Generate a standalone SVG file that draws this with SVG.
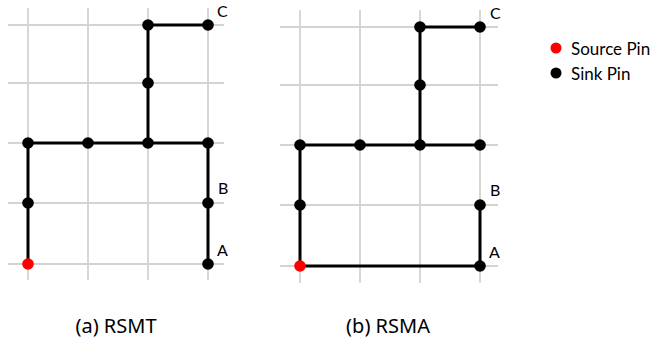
<svg xmlns="http://www.w3.org/2000/svg" width="653" height="345" viewBox="0 0 653 345">
  <style>
    .grid line { stroke: #d3d3d3; stroke-width: 1.8; }
    .wire { stroke: #000; stroke-width: 3; fill: none; stroke-linecap: round; }
    .sink { fill: #000; }
    .src { fill: #ff0000; }
    .lbl { font-family: Lato, "Open Sans", sans-serif; font-size: 16px; fill: #000; }
    .leg { font-family: Lato, "Open Sans", sans-serif; font-size: 17px; fill: #000; }
    .cap { font-family: "Noto Sans", "Open Sans", sans-serif; font-size: 20px; fill: #000; text-anchor: middle; }
  </style>
  <rect width="653" height="345" fill="#fff"/>

  <!-- (a) RSMT -->
  <g id="grid-a" class="grid">
    <line x1="28" y1="8" x2="28" y2="280"/>
    <line x1="88" y1="8" x2="88" y2="280"/>
    <line x1="148" y1="8" x2="148" y2="280"/>
    <line x1="208" y1="8" x2="208" y2="280"/>
    <line x1="8" y1="25" x2="224" y2="25"/>
    <line x1="8" y1="83" x2="224" y2="83"/>
    <line x1="8" y1="143" x2="224" y2="143"/>
    <line x1="8" y1="203" x2="224" y2="203"/>
    <line x1="8" y1="264" x2="224" y2="264"/>
  </g>
  <g id="edges-a" class="wire">
    <path d="M148 25H208"/>
    <path d="M148 25V143"/>
    <path d="M28 143H208"/>
    <path d="M208 143V264"/>
    <path d="M28 143V264"/>
  </g>
  <g id="pins-a">
    <g id="a-c"><circle class="sink" cx="208" cy="25" r="5.8"/><text class="lbl" x="217" y="17">C</text></g>
    <g id="a-n1"><circle class="sink" cx="148" cy="25" r="5.8"/></g>
    <g id="a-n2"><circle class="sink" cx="148" cy="83" r="5.8"/></g>
    <g id="a-n3"><circle class="sink" cx="28" cy="143" r="5.8"/></g>
    <g id="a-n4"><circle class="sink" cx="88" cy="143" r="5.8"/></g>
    <g id="a-n5"><circle class="sink" cx="148" cy="143" r="5.8"/></g>
    <g id="a-n6"><circle class="sink" cx="208" cy="143" r="5.8"/></g>
    <g id="a-n7"><circle class="sink" cx="28" cy="203" r="5.8"/></g>
    <g id="a-b"><circle class="sink" cx="208" cy="203" r="5.8"/><text class="lbl" x="218" y="194">B</text></g>
    <g id="a-a"><circle class="sink" cx="208" cy="264" r="5.8"/><text class="lbl" x="217" y="256">A</text></g>
    <g id="a-src"><circle class="src" cx="28" cy="264" r="5.8"/></g>
  </g>
  <text id="cap-a" class="cap" x="116" y="333">(a) RSMT</text>

  <!-- (b) RSMA -->
  <g id="grid-b" class="grid">
    <line x1="300" y1="10" x2="300" y2="283"/>
    <line x1="360" y1="10" x2="360" y2="283"/>
    <line x1="420" y1="10" x2="420" y2="283"/>
    <line x1="480" y1="10" x2="480" y2="283"/>
    <line x1="280" y1="27" x2="498" y2="27"/>
    <line x1="280" y1="85" x2="498" y2="85"/>
    <line x1="280" y1="145" x2="498" y2="145"/>
    <line x1="280" y1="205" x2="498" y2="205"/>
    <line x1="280" y1="266" x2="498" y2="266"/>
  </g>
  <g id="edges-b" class="wire">
    <path d="M420 27H480"/>
    <path d="M420 27V145"/>
    <path d="M300 145H480"/>
    <path d="M300 145V266"/>
    <path d="M300 266H480"/>
    <path d="M480 266V205"/>
  </g>
  <g id="pins-b">
    <g id="b-c"><circle class="sink" cx="480" cy="27" r="5.8"/><text class="lbl" x="490" y="19">C</text></g>
    <g id="b-n1"><circle class="sink" cx="420" cy="27" r="5.8"/></g>
    <g id="b-n2"><circle class="sink" cx="420" cy="85" r="5.8"/></g>
    <g id="b-n3"><circle class="sink" cx="300" cy="145" r="5.8"/></g>
    <g id="b-n4"><circle class="sink" cx="360" cy="145" r="5.8"/></g>
    <g id="b-n5"><circle class="sink" cx="420" cy="145" r="5.8"/></g>
    <g id="b-n6"><circle class="sink" cx="480" cy="145" r="5.8"/></g>
    <g id="b-n7"><circle class="sink" cx="300" cy="205" r="5.8"/></g>
    <g id="b-b"><circle class="sink" cx="480" cy="205" r="5.8"/><text class="lbl" x="490" y="196">B</text></g>
    <g id="b-a"><circle class="sink" cx="480" cy="266" r="5.8"/><text class="lbl" x="489" y="258">A</text></g>
    <g id="b-src"><circle class="src" cx="300" cy="266" r="5.8"/></g>
  </g>
  <text id="cap-b" class="cap" x="388" y="333">(b) RSMA</text>

  <!-- legend -->
  <g id="legend">
    <circle class="src" cx="556" cy="48" r="5.5"/>
    <text class="leg" x="571" y="55">Source Pin</text>
    <circle class="sink" cx="556" cy="73" r="5.5"/>
    <text class="leg" x="571" y="80">Sink Pin</text>
  </g>
</svg>
